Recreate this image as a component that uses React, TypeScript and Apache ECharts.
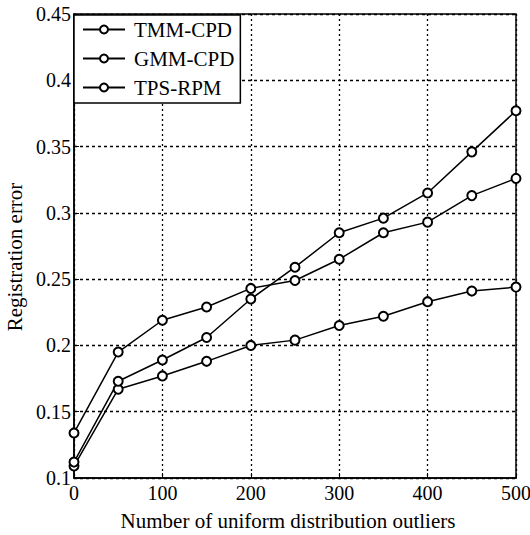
import React, { useEffect, useRef } from "react";
import * as echarts from "echarts";

const outliers = [0, 50, 100, 150, 200, 250, 300, 350, 400, 450, 500];
const tmmCpd = [0.109, 0.167, 0.177, 0.188, 0.2, 0.204, 0.215, 0.222, 0.233, 0.241, 0.244];
const gmmCpd = [0.134, 0.195, 0.219, 0.229, 0.243, 0.249, 0.265, 0.285, 0.293, 0.313, 0.326];
const tpsRpm = [0.112, 0.173, 0.189, 0.206, 0.235, 0.259, 0.285, 0.296, 0.315, 0.346, 0.377];
const seriesNames = ["TMM-CPD", "GMM-CPD", "TPS-RPM"];

const FONT = "'Liberation Serif', 'Times New Roman', serif";

export default function App() {
  const ref = useRef<HTMLDivElement>(null);
  useEffect(() => {
    document.body.style.margin = "0";
    const chart = echarts.init(ref.current!, undefined, { renderer: "svg" });
    const mk = (name: string, vals: number[]) => ({
      name,
      type: "line",
      data: outliers.map((x, i) => [x, vals[i]]),
      symbol: "emptyCircle",
      symbolSize: 9,
      lineStyle: { color: "#000", width: 1.5 },
      itemStyle: { color: "#000", borderColor: "#000", borderWidth: 1.5 },
      emphasis: { disabled: true },
    });
    chart.setOption({
      animation: false,
      backgroundColor: "#fff",
      textStyle: { fontFamily: FONT },
      grid: {
        left: 74,
        right: 14,
        top: 14,
        bottom: 57,
        outerBoundsMode: "none",
        containLabel: false,
        show: true,
        borderColor: "#000",
        borderWidth: 1.5,
        backgroundColor: "transparent",
      },
      legend: {
        left: 74,
        top: 15,
        orient: "vertical",
        backgroundColor: "#fff",
        borderColor: "#000",
        borderWidth: 1.5,
        borderRadius: 0,
        padding: [4, 6, 5, 8],
        itemWidth: 42,
        itemHeight: 10,
        itemGap: 8,
        textStyle: { fontFamily: FONT, fontSize: 21, color: "#000", padding: [0, 0, 0, 4] },
        data: seriesNames,
      },
      xAxis: {
        type: "value",
        min: 0,
        max: 500,
        interval: 100,
        name: "Number of uniform distribution outliers",
        nameLocation: "middle",
        nameGap: 32,
        nameTextStyle: { fontFamily: FONT, fontSize: 21, color: "#000", padding: [0, 14, 0, 0] },
        axisLine: { lineStyle: { color: "#000", width: 1.5 } },
        axisTick: { inside: true, length: 5, lineStyle: { color: "#000" } },
        axisLabel: { fontFamily: FONT, fontSize: 20, color: "#000", margin: 5 },
        splitLine: { show: true, lineStyle: { color: "#000", type: [2, 3], width: 1.3 } },
      },
      yAxis: {
        type: "value",
        min: 0.1,
        max: 0.45,
        interval: 0.05,
        name: "Registration error",
        nameLocation: "middle",
        nameGap: 46,
        nameTextStyle: { fontFamily: FONT, fontSize: 21, color: "#000", padding: [0, 22, 0, 0] },
        axisLine: { show: true, lineStyle: { color: "#000", width: 1.5 } },
        axisTick: { show: true, inside: true, length: 5, lineStyle: { color: "#000" } },
        axisLabel: {
          fontFamily: FONT,
          fontSize: 20,
          color: "#000",
          margin: 3,
          formatter: (v: number) => String(+v.toFixed(2)),
        },
        splitLine: { show: true, lineStyle: { color: "#000", type: [3, 3], width: 1.3 } },
      },
      series: [mk(seriesNames[0], tmmCpd), mk(seriesNames[1], gmmCpd), mk(seriesNames[2], tpsRpm)],
    });
    return () => chart.dispose();
  }, []);
  return <div ref={ref} style={{ width: 530, height: 535 }} />;
}
